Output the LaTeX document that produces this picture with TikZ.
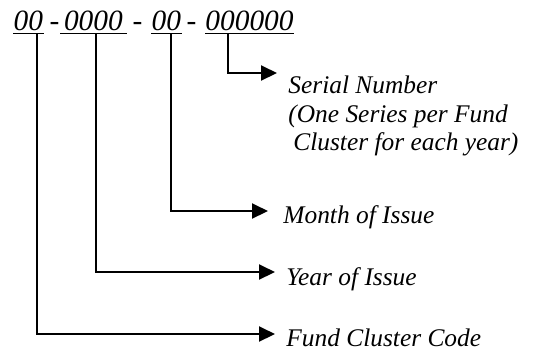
\documentclass[tikz,border=0pt]{standalone}
\usepackage{fontspec}
\setmainfont{Liberation Serif}
\usetikzlibrary{arrows.meta}

\begin{document}
\begin{tikzpicture}[x=0.5pt,y=-0.5pt,
  code/.style={inner sep=0pt,anchor=base west,font=\fontsize{14.7}{16}\selectfont\itshape},
  sep/.style={inner sep=0pt,anchor=base,font=\fontsize{14.7}{16}\selectfont},
  lbl/.style={inner sep=0pt,anchor=base west,font=\fontsize{12.7}{14}\selectfont\itshape},
  uline/.style={line width=0.8pt},
  conn/.style={line width=1pt,-{Triangle[length=8pt,width=7.5pt]}}]
\useasboundingbox (0,0) rectangle (539,350);
% number format
\node[code,minimum width=15pt] (fc) at (13,30) {00};
\node[sep] (s1) at (54.5,30) {-};
\node[code,minimum width=33pt] (yr) at (60,30) {0000};
\node[sep] (s2) at (137.5,30) {-};
\node[code,minimum width=15pt] (mo) at (151,30) {00};
\node[sep] (s3) at (191.5,30) {-};
\node[code,minimum width=44pt] (sn) at (205,30) {000000};
% underlines
\draw[uline] ([yshift=-1.5pt]fc.south west) -- ([yshift=-1.5pt]fc.south east);
\draw[uline] ([yshift=-1.5pt]yr.south west) -- ([yshift=-1.5pt]yr.south east);
\draw[uline] ([yshift=-1.5pt]mo.south west) -- ([yshift=-1.5pt]mo.south east);
\draw[uline] ([yshift=-1.5pt]sn.south west) -- ([yshift=-1.5pt]sn.south east);
% labels
\node[lbl] (serial) at (288,93) {Serial Number};
\node[lbl] (serial2) at (288,122) {(One Series per Fund};
\node[lbl] (serial3) at (293,150) {Cluster for each year)};
\node[lbl] (month) at (283,223) {Month of Issue};
\node[lbl] (year) at (286,285) {Year of Issue};
\node[lbl] (fund) at (286,346) {Fund Cluster Code};
% connectors
\coordinate (t1) at (37,33);
\coordinate (t2) at (96,33);
\coordinate (t3) at (171,33);
\coordinate (t4) at (228,33);
\coordinate (e1) at (275,334);
\coordinate (e2) at (275,272);
\coordinate (e3) at (268,211);
\coordinate (e4) at (277,73);
\draw[conn] (t1) |- (e1);
\draw[conn] (t2) |- (e2);
\draw[conn] (t3) |- (e3);
\draw[conn] (t4) |- (e4);
\end{tikzpicture}
\end{document}
